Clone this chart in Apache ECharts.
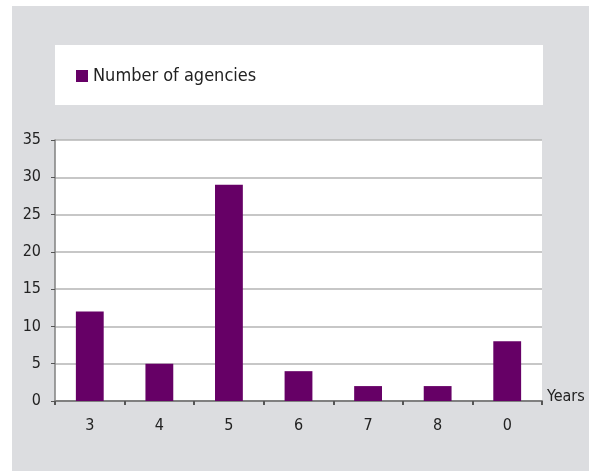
<!DOCTYPE html>
<html>
<head>
<meta charset="utf-8">
<script src="https://cdn.jsdelivr.net/npm/echarts@6/dist/echarts.min.js"></script>
<style>html,body{margin:0;padding:0;background:#fff;}#c{width:589px;height:471px;}</style>
</head>
<body>
<div id="c"></div>
<script>
const categories = ['3', '4', '5', '6', '7', '8', '0'];
const agencies = [12, 5, 29, 4, 2, 2, 8];
const seriesName = 'Number of agencies';
const xName = 'Years';
const FONT = '"DejaVu Sans Condensed", "Liberation Sans", Arial, sans-serif';

const chart = echarts.init(document.getElementById('c'), null, {renderer: 'canvas'});
chart.setOption({
  animation: false,
  backgroundColor: '#ffffff',
  graphic: [
    {type: 'rect', z: -100, shape: {x: 12, y: 6, width: 577, height: 465}, style: {fill: '#dcdde0'}},
    {type: 'rect', z: -90, shape: {x: 55, y: 45, width: 488, height: 60}, style: {fill: '#ffffff'}}
  ],
  legend: {
    left: 71, top: 62,
    icon: 'rect', itemWidth: 12, itemHeight: 12, itemGap: 10,
    textStyle: {fontFamily: FONT, fontSize: 18, color: '#222'},
    data: [seriesName]
  },
  grid: {
    left: 55, right: 47, top: 140, bottom: 70,
    show: true, backgroundColor: '#ffffff', borderWidth: 0
  },
  xAxis: {
    type: 'category',
    data: categories,
    name: xName,
    nameLocation: 'end',
    nameGap: 5,
    nameTextStyle: {fontFamily: FONT, fontSize: 16, color: '#222', verticalAlign: 'bottom', lineHeight: 8},
    axisLine: {lineStyle: {color: '#808080', width: 2}},
    axisTick: {show: true, length: 4, lineStyle: {color: '#555', width: 2}},
    axisLabel: {fontFamily: FONT, fontSize: 16, color: '#222', margin: 17}
  },
  yAxis: {
    type: 'value',
    min: 0, max: 35, interval: 5,
    axisLine: {show: true, lineStyle: {color: '#808080', width: 1.5}},
    axisTick: {show: true, length: 4, lineStyle: {color: '#555', width: 1}},
    axisLabel: {fontFamily: FONT, fontSize: 16, color: '#222', margin: 14},
    splitLine: {lineStyle: {color: '#b4b4b4', width: 1.5}}
  },
  series: [{
    name: seriesName,
    type: 'bar',
    data: agencies,
    barCategoryGap: '60%',
    itemStyle: {color: '#660066'}
  }]
});
</script>
</body>
</html>
